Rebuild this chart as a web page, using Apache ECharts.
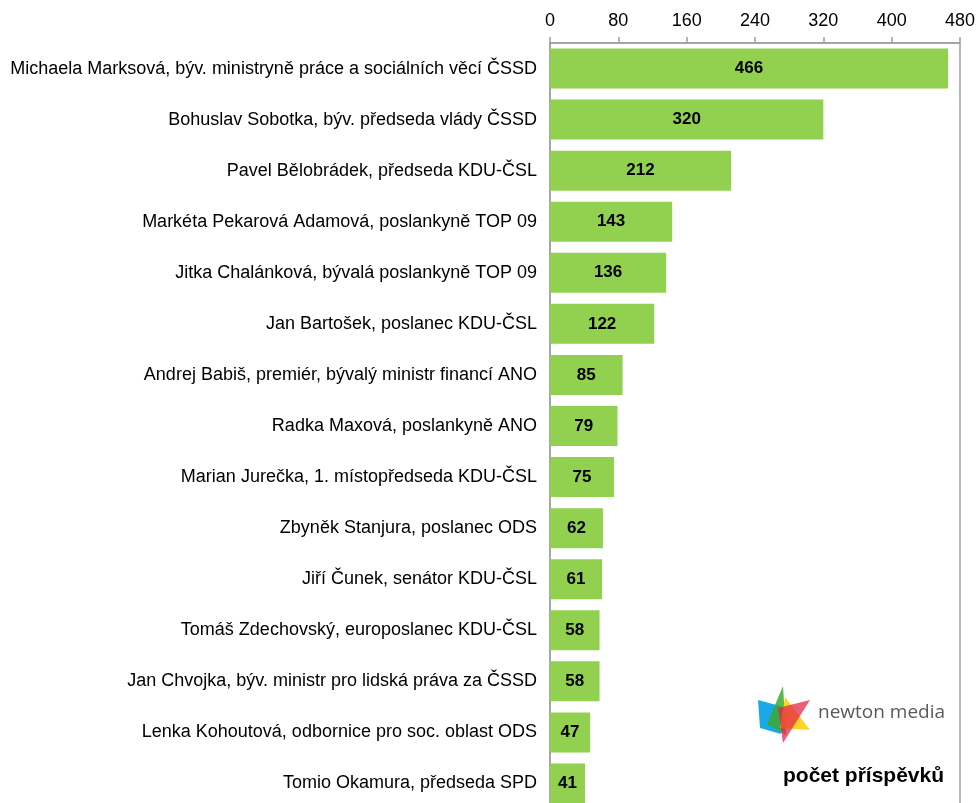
<!DOCTYPE html>
<html>
<head>
<meta charset="utf-8">
<script src="https://cdn.jsdelivr.net/npm/echarts@6/dist/echarts.min.js"></script>
<style>
html, body { margin: 0; padding: 0; background: #fff; }
#chart { width: 977px; height: 803px; }
</style>
</head>
<body>
<div id="chart"></div>
<script>
// jmena a funkce, shora dolu
var names = [
    'Michaela Marksová, býv. ministryně práce a sociálních věcí ČSSD',
    'Bohuslav Sobotka, býv. předseda vlády ČSSD',
    'Pavel Bělobrádek, předseda KDU-ČSL',
    'Markéta Pekarová Adamová, poslankyně TOP 09',
    'Jitka Chalánková, bývalá poslankyně TOP 09',
    'Jan Bartošek, poslanec KDU-ČSL',
    'Andrej Babiš, premiér, bývalý ministr financí ANO',
    'Radka Maxová, poslankyně ANO',
    'Marian Jurečka, 1. místopředseda KDU-ČSL',
    'Zbyněk Stanjura, poslanec ODS',
    'Jiří Čunek, senátor KDU-ČSL',
    'Tomáš Zdechovský, europoslanec KDU-ČSL',
    'Jan Chvojka, býv. ministr pro lidská práva za ČSSD',
    'Lenka Kohoutová, odbornice pro soc. oblast ODS',
    'Tomio Okamura, předseda SPD'
];
var counts = [466, 320, 212, 143, 136, 122, 85, 79, 75, 62, 61, 58, 58, 47, 41];
var axisMax = 480;
var axisStep = 80;
var unitLabel = 'počet příspěvků';
var brandText = 'newton media';

var chart = echarts.init(document.getElementById('chart'));
var font = 'Arial, "Liberation Sans", sans-serif';

chart.setOption({
    animation: false,
    grid: {
        left: 550, top: 43, width: 410, height: 766,
        show: true, borderColor: '#a0a0a0', borderWidth: 1.5,
        outerBoundsMode: 'none', containLabel: false
    },
    xAxis: {
        type: 'value', position: 'top',
        min: 0, max: axisMax, interval: axisStep,
        axisLine: { show: true, lineStyle: { color: '#a0a0a0', width: 1.5 } },
        axisTick: { show: true, length: 6, lineStyle: { color: '#a0a0a0', width: 1.5 } },
        splitLine: { show: false },
        axisLabel: { color: '#000', fontSize: 18, fontFamily: font, margin: 13 }
    },
    yAxis: {
        type: 'category', inverse: true, data: names,
        axisLine: { show: true, lineStyle: { color: '#a0a0a0', width: 1.5 } },
        axisTick: { show: false },
        axisLabel: { color: '#000', fontSize: 18, fontFamily: font, margin: 13 }
    },
    series: [{
        type: 'bar', data: counts, barWidth: 40,
        itemStyle: { color: '#92d050' },
        label: {
            show: true, position: 'inside', color: '#000',
            fontSize: 17, fontWeight: 'bold', fontFamily: font
        }
    }],
    graphic: [
        // logo - barevna hvezda
        { type: 'polygon', shape: { points: [[758, 700], [784, 707], [781, 734], [760, 728]] }, style: { fill: 'rgba(0,160,227,0.9)' } },
        { type: 'polygon', shape: { points: [[783, 686], [786, 735], [767, 724]] }, style: { fill: 'rgba(60,170,50,0.85)' } },
        { type: 'polygon', shape: { points: [[785, 697], [810, 730], [780, 728]] }, style: { fill: 'rgba(255,205,0,0.85)' } },
        { type: 'polygon', shape: { points: [[778, 708], [810, 700], [783, 743]] }, style: { fill: 'rgba(230,40,70,0.75)' } },
        { type: 'text', left: 818, top: 703, style: { text: brandText, fill: '#5a5a5a', font: '19px "Open Sans", Arial, sans-serif' } },
        { type: 'text', left: 783, top: 766, style: { text: unitLabel, fill: '#000', font: 'bold 21px Arial, "Liberation Sans", sans-serif' } }
    ]
});
</script>
</body>
</html>
